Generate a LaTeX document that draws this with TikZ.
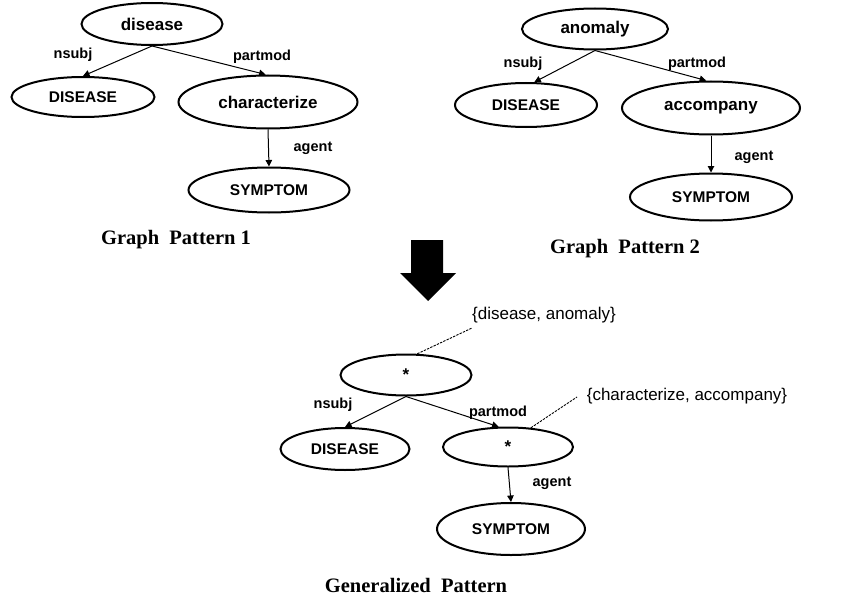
\documentclass[tikz,border=0pt]{standalone}
\usepackage{fontspec}
\setmainfont{Liberation Serif}
\setsansfont{Liberation Sans}
\usetikzlibrary{shapes.geometric,arrows.meta}
\begin{document}
\begin{tikzpicture}[x=1pt,y=-1pt,
  ell/.style={ellipse,draw,line width=2pt,inner sep=0pt,font=\sffamily\bfseries\fontsize{17}{19}\selectfont},
  up/.style={font=\sffamily\bfseries\fontsize{15.5}{18}\selectfont},
  elab/.style={font=\sffamily\bfseries\fontsize{14.5}{17}\selectfont,inner sep=0pt},
  edge/.style={line width=1pt,-{Triangle[length=6.5pt,width=6.5pt]}},
  note/.style={font=\sffamily\fontsize{17}{19}\selectfont,inner sep=0pt},
  link/.style={line width=0.9pt,dash pattern=on 2.4pt off 1.2pt},
  title/.style={font=\rmfamily\bfseries\fontsize{20.5}{24}\selectfont,inner sep=0pt}]
\useasboundingbox (0,0) rectangle (849,602);
% Graph pattern 1
\node[ell,minimum width=141pt,minimum height=42pt] (a1) at (152,24) {disease};
\node[ell,up,minimum width=143pt,minimum height=40pt] (b1) at (83,97) {DISEASE};
\node[ell,minimum width=179pt,minimum height=53pt] (c1) at (268,102) {characterize};
\node[ell,up,minimum width=161pt,minimum height=45pt] (d1) at (269,190) {SYMPTOM};
\draw[edge] (a1.south) -- (b1.north);
\draw[edge] (a1.south) -- (c1.95);
\draw[edge] (c1.south) -- (d1.north);
\node[elab] (la1) at (73,55) {nsubj};
\node[elab] (lb1) at (262,57) {partmod};
\node[elab] (lc1) at (313,148) {agent};
\node[title] (t1) at (176,240) {Graph\hspace{0.5em}Pattern 1};
% Graph pattern 2
\node[ell,minimum width=146pt,minimum height=41pt] (a2) at (595,29) {anomaly};
\node[ell,up,minimum width=142pt,minimum height=44pt] (b2) at (526,105) {DISEASE};
\node[ell,minimum width=178pt,minimum height=53pt] (c2) at (711,108) {accompany};
\node[ell,up,minimum width=162pt,minimum height=47pt] (d2) at (711,197) {SYMPTOM};
\draw[edge] (a2.south) -- (b2.70);
\draw[edge] (a2.south) -- (c2.100);
\draw[edge] (c2.south) -- (d2.north);
\node[elab] (la2) at (523,64) {nsubj};
\node[elab] (lb2) at (697,64) {partmod};
\node[elab] (lc2) at (754,157) {agent};
\node[title] (t2) at (625,249) {Graph\hspace{0.5em}Pattern 2};
% big arrow
\fill (411,240) -- (443,240) -- (443,273) -- (456,273) -- (428,301) -- (400,273) -- (411,273) -- cycle;
% Generalized pattern
\node[ell,minimum width=131pt,minimum height=41pt] (a3) at (406,375) {*};
\node[ell,up,minimum width=129pt,minimum height=42pt] (b3) at (345,449) {DISEASE};
\node[ell,minimum width=130pt,minimum height=39pt] (c3) at (508,447) {*};
\node[ell,up,minimum width=148pt,minimum height=52pt] (d3) at (511,529) {SYMPTOM};
\draw[edge] (a3.south) -- (b3.north);
\draw[edge] (a3.south) -- (c3.115);
\draw[edge] (c3.south) -- (d3.north);
\node[elab] (la3) at (333,405) {nsubj};
\node[elab] (lb3) at (498,413) {partmod};
\node[elab] (lc3) at (552,483) {agent};
\node[note] (n1) at (544,315) {\{disease, anomaly\}};
\node[note] (n2) at (687,396) {\{characterize, accompany\}};
\coordinate (e1) at (472,328);
\coordinate (e2) at (577,397);
\draw[link] (a3.62) -- (e1);
\draw[link] (c3.40) -- (e2);
\node[title] (t3) at (416,585) {Generalized\hspace{0.5em}Pattern};
\end{tikzpicture}
\end{document}
